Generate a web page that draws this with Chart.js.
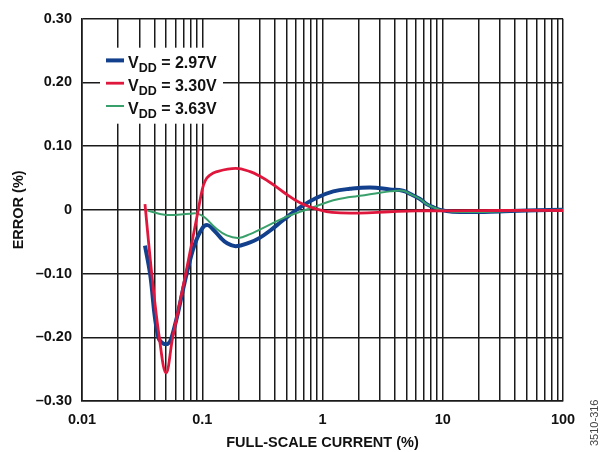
<!DOCTYPE html>
<html>
<head>
<meta charset="utf-8">
<script src="https://cdn.jsdelivr.net/npm/chart.js@4.4.1/dist/chart.umd.min.js"></script>
<style>
  html, body { margin: 0; padding: 0; background: #fff; }
  #wrap { width: 605px; height: 452px; }
</style>
</head>
<body>
<div id="wrap"><canvas id="errorChart" width="605" height="452"></canvas></div>
<script>
// axis ticks
const xTickLabels = ['0.01', '0.1', '1', '10', '100'];
const yTickValues = [-0.3, -0.2, -0.1, 0, 0.1, 0.2, 0.3];
const yTickLabels = ['\u20130.30', '\u20130.20', '\u20130.10', '0', '0.10', '0.20', '0.30'];

// legend text (V with DD subscript is added when drawing)
const legendNames = ['2.97V', '3.30V', '3.63V'];

// VDD = 2.97V
const current297 = [0.0334, 0.0368, 0.0431, 0.05, 0.0557, 0.0743, 0.0859, 0.1, 0.111, 0.125, 0.141, 0.16, 0.19, 0.25, 0.30,
    0.37, 0.472, 0.65, 0.895, 1.23, 1.69, 2.5, 3.64, 4.67, 5.5, 6.47, 7.35, 8.35, 9.5, 12, 25, 50, 100];
const error297 = [-0.056, -0.10, -0.20, -0.211, -0.20, -0.10, -0.056, -0.029, -0.024, -0.032, -0.043, -0.052, -0.057, -0.051, -0.044,
    -0.032, -0.016, 0.004, 0.019, 0.029, 0.033, 0.035, 0.032, 0.030, 0.024, 0.017, 0.009, 0.004, 0.0, -0.003, -0.003, -0.001, 0.0];

// VDD = 3.30V
const current330 = [0.0334, 0.038, 0.0439, 0.05, 0.0568, 0.0729, 0.0927, 0.1, 0.106, 0.115, 0.132, 0.19, 0.25, 0.30,
    0.38, 0.472, 0.65, 0.895, 1.2, 2.0, 3.6, 6, 10, 30, 100];
const error330 = [0.009, -0.10, -0.20, -0.256, -0.20, -0.10, 0.0, 0.032, 0.046, 0.054, 0.060, 0.065, 0.060, 0.053,
    0.041, 0.028, 0.011, 0.001, -0.004, -0.005, -0.003, -0.0015, -0.0015, -0.001, -0.001];

// VDD = 3.63V
const current363 = [0.0334, 0.05, 0.079, 0.092, 0.105, 0.13, 0.16, 0.2, 0.25, 0.30, 0.472, 0.65, 0.895, 1.23,
    1.69, 2.05, 3.0, 3.64, 4.67, 5.5, 6.47, 7.35, 8.35, 9.5, 12, 25, 50, 100];
const error363 = [0.0, -0.008, -0.006, -0.006, -0.012, -0.029, -0.040, -0.044, -0.038, -0.031, -0.013, -0.003, 0.006, 0.015,
    0.020, 0.022, 0.027, 0.029, 0.030, 0.024, 0.017, 0.009, 0.004, 0.0, -0.003, -0.003, -0.001, 0.0];

const fontFamily = '"Liberation Sans", Arial, Helvetica, sans-serif';
const inkColor = '#111';
const gridColor = '#1a1a1a';

// log grid at 1..9 of every decade
const xGridValues = [];
for (let e = -2; e < 2; e++) {
    for (let m = 1; m < 10; m++) {
        xGridValues.push(+(m * Math.pow(10, e)).toPrecision(3));
    }
}
xGridValues.push(100);

function toPoints(xs, ys) {
    return xs.map((x, i) => ({ x: x, y: ys[i] }));
}

const vddLegend = {
    id: 'vddLegend',
    afterDatasetsDraw(chart) {
        const { ctx, chartArea } = chart;
        const x0 = chartArea.left + 18;
        const y0 = chartArea.top + 29;
        ctx.save();
        ctx.fillStyle = '#fff';
        ctx.fillRect(x0, y0, 123, 76);
        chart.data.datasets.forEach((ds, i) => {
            const base = y0 + 20.7 + i * 22.8;
            ctx.strokeStyle = ds.borderColor;
            ctx.lineWidth = ds.borderWidth;
            ctx.beginPath();
            ctx.moveTo(x0 + 6, base - 8);
            ctx.lineTo(x0 + 24, base - 8);
            ctx.stroke();

            ctx.fillStyle = inkColor;
            ctx.textBaseline = 'alphabetic';
            ctx.textAlign = 'left';
            let x = x0 + 28;
            ctx.font = 'bold 16px ' + fontFamily;
            ctx.fillText('V', x, base);
            x += ctx.measureText('V').width;
            ctx.font = 'bold 12.5px ' + fontFamily;
            ctx.fillText('DD', x, base + 4);
            x += ctx.measureText('DD').width;
            ctx.font = 'bold 16px ' + fontFamily;
            ctx.fillText(' = ' + legendNames[i], x, base);
        });

        // figure number at the right edge
        ctx.translate(598, 446);
        ctx.rotate(-Math.PI / 2);
        ctx.font = '11px ' + fontFamily;
        ctx.fillStyle = '#444';
        ctx.fillText('3510-316', 0, 0);
        ctx.restore();
    }
};

new Chart(document.getElementById('errorChart'), {
    type: 'line',
    data: {
        datasets: [
            {
                label: 'VDD = 2.97V',
                data: toPoints(current297, error297),
                borderColor: '#13408c',
                borderWidth: 4,
                order: 2
            },
            {
                label: 'VDD = 3.30V',
                data: toPoints(current330, error330),
                borderColor: '#e0173d',
                borderWidth: 2.8,
                order: 0
            },
            {
                label: 'VDD = 3.63V',
                data: toPoints(current363, error363),
                borderColor: '#3aa06b',
                borderWidth: 2,
                order: 1
            }
        ]
    },
    options: {
        responsive: false,
        animation: false,
        events: [],
        layout: { padding: { top: 17, right: 42, left: 0, bottom: 0 } },
        elements: {
            point: { radius: 0 },
            line: { tension: 0.4, fill: false, borderJoinStyle: 'round', borderCapStyle: 'butt' }
        },
        plugins: {
            legend: { display: false },
            tooltip: { enabled: false }
        },
        scales: {
            x: {
                type: 'logarithmic',
                min: 0.01,
                max: 100,
                afterBuildTicks: scale => {
                    scale.ticks = xGridValues.map(v => ({ value: v }));
                },
                afterFit: scale => { scale.height = 51; },
                ticks: {
                    autoSkip: false,
                    maxRotation: 0,
                    padding: 10,
                    color: inkColor,
                    font: { family: fontFamily, size: 14.5, weight: 'bold' },
                    callback: function (value) {
                        const p = Math.log10(value);
                        const i = Math.round(p);
                        return Math.abs(p - i) < 1e-6 ? xTickLabels[i + 2] : '';
                    }
                },
                grid: { color: gridColor, lineWidth: 1.5, drawTicks: false },
                border: { color: gridColor, width: 1.6 },
                title: {
                    display: true,
                    text: 'FULL-SCALE CURRENT (%)',
                    color: inkColor,
                    font: { family: fontFamily, size: 14.5, weight: 'bold' },
                    padding: { top: 0, bottom: 0 }
                }
            },
            y: {
                type: 'linear',
                min: -0.3,
                max: 0.3,
                afterBuildTicks: scale => {
                    scale.ticks = yTickValues.map(v => ({ value: v }));
                },
                afterFit: scale => { scale.width = 82; },
                ticks: {
                    padding: 10,
                    color: inkColor,
                    font: { family: fontFamily, size: 14.5, weight: 'bold' },
                    callback: function (value) {
                        const i = yTickValues.findIndex(v => Math.abs(v - value) < 1e-6);
                        return i >= 0 ? yTickLabels[i] : '';
                    }
                },
                grid: { color: gridColor, lineWidth: 1.5, drawTicks: false },
                border: { color: gridColor, width: 1.6 },
                title: {
                    display: true,
                    text: 'ERROR (%)',
                    color: inkColor,
                    font: { family: fontFamily, size: 14.5, weight: 'bold' },
                    padding: { top: 10, bottom: 0 }
                }
            }
        }
    },
    plugins: [vddLegend]
});
</script>
</body>
</html>
